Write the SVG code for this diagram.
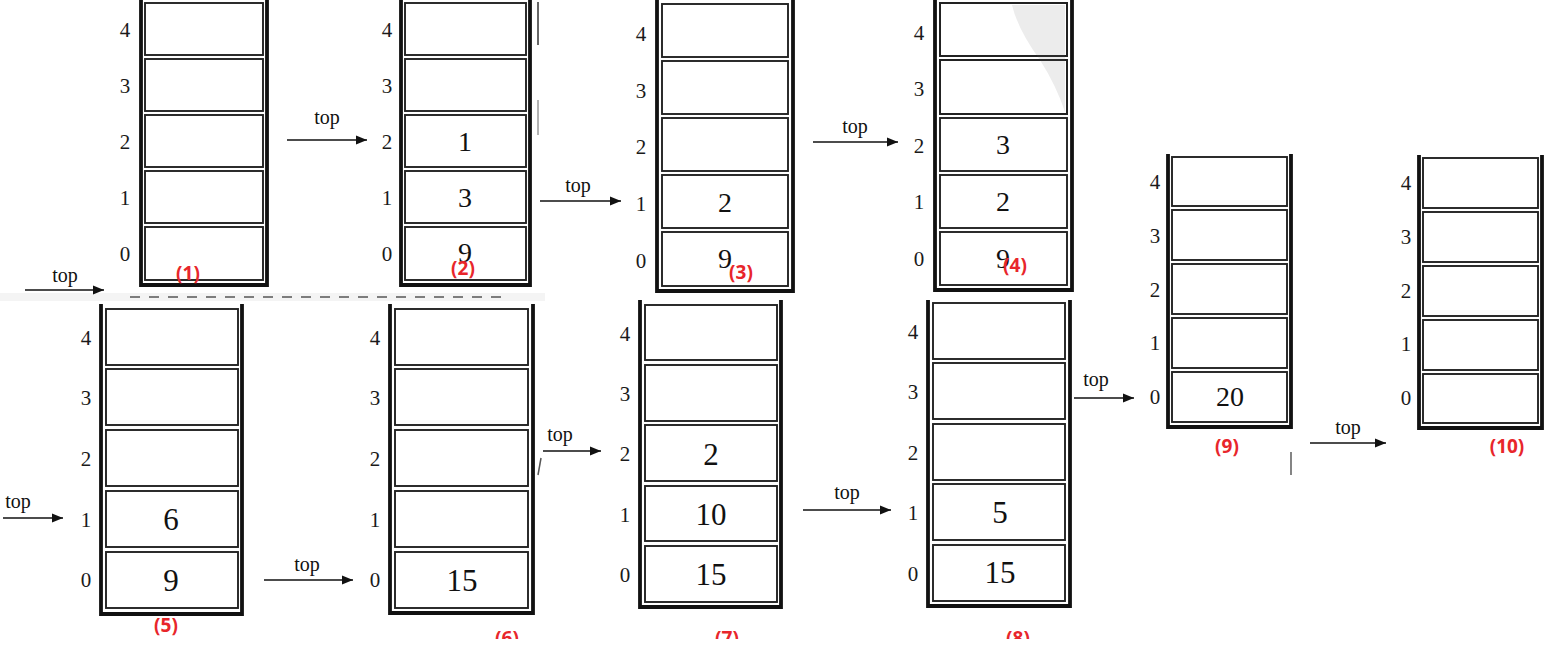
<svg xmlns="http://www.w3.org/2000/svg" width="1550" height="650" viewBox="0 0 1550 650">
<defs>
<style>
.wall{fill:none;stroke:#111;stroke-width:3.8;stroke-linejoin:miter}
.cell{fill:#fff;stroke:#222;stroke-width:1.9}
.cello{fill:none;stroke:#222;stroke-width:1.9}
.idx{font-family:"Liberation Serif",serif;font-size:21px;fill:#1a1a1a;text-anchor:middle}
.val{font-family:"Liberation Serif",serif;font-size:28px;fill:#111;text-anchor:middle}
.valb{font-family:"Liberation Serif",serif;font-size:31px;fill:#111;text-anchor:middle}
.top{font-family:"Liberation Serif",serif;font-size:20px;fill:#111;text-anchor:middle}
.lbl{font-family:"Noto Sans","Noto Sans CJK SC",sans-serif;font-size:19px;font-weight:bold;fill:#e8262b;text-anchor:middle}
.arr{stroke:#111;stroke-width:1.7;fill:none;marker-end:url(#ah)}
</style>
<marker id="ah" viewBox="0 0 10 10" refX="10" refY="5" markerWidth="12" markerHeight="11" markerUnits="userSpaceOnUse" orient="auto"><path d="M0,1 L10,5 L0,9 Z" fill="#111"/></marker>
</defs>
<rect width="1550" height="650" fill="#fff"/>
<g id="artifacts">
<rect x="0" y="293" width="545" height="8" fill="#f4f4f4"/>
<line x1="130" y1="297" x2="510" y2="297" stroke="#555" stroke-width="1.6" stroke-dasharray="10 9"/>
<line x1="538" y1="2" x2="538" y2="45" stroke="#333" stroke-width="1.5"/>
<line x1="538" y1="100" x2="538" y2="135" stroke="#666" stroke-width="1"/>
<line x1="1291" y1="452" x2="1291" y2="475" stroke="#333" stroke-width="1.2"/>
</g>

<g id="stack1">
<g class="cell"><rect x="145" y="3" width="118" height="52"/><rect x="145" y="59" width="118" height="52"/><rect x="145" y="115" width="118" height="52"/><rect x="145" y="171" width="118" height="52"/><rect x="145" y="227" width="118" height="53"/></g>
<path class="wall" d="M141,0 V285 H267 V0"/>
<g class="idx"><text x="125" y="37">4</text><text x="125" y="93">3</text><text x="125" y="149">2</text><text x="125" y="205">1</text><text x="125" y="261">0</text></g>
<text class="lbl" x="188" y="280">(1)</text>
</g>

<g id="stack2">
<g class="cell"><rect x="405" y="3" width="121" height="52"/><rect x="405" y="59" width="121" height="52"/><rect x="405" y="115" width="121" height="52"/><rect x="405" y="171" width="121" height="52"/><rect x="405" y="227" width="121" height="53"/></g>
<path class="wall" d="M401,0 V285 H530 V0"/>
<g class="idx"><text x="387" y="37">4</text><text x="387" y="93">3</text><text x="387" y="149">2</text><text x="387" y="205">1</text><text x="387" y="261">0</text></g>
<text class="val" x="465" y="151">1</text><text class="val" x="465" y="207">3</text><text class="val" x="465" y="262">9</text>
<text class="lbl" x="463" y="275">(2)</text>
</g>

<g id="stack3">
<g class="cell"><rect x="662" y="4" width="126" height="53"/><rect x="662" y="61" width="126" height="53"/><rect x="662" y="118" width="126" height="53"/><rect x="662" y="175" width="126" height="53"/><rect x="662" y="232" width="126" height="54"/></g>
<path class="wall" d="M657,0 V291 H793 V0"/>
<g class="idx"><text x="641" y="41">4</text><text x="641" y="98">3</text><text x="641" y="154">2</text><text x="641" y="211">1</text><text x="641" y="268">0</text></g>
<text class="val" x="725" y="212">2</text><text class="val" x="725" y="268">9</text>
<text class="lbl" x="741" y="279">(3)</text>
</g>

<g id="stack4">
<g class="cell"><rect x="940" y="3" width="127" height="53"/><rect x="940" y="60" width="127" height="54"/><rect x="940" y="118" width="127" height="53"/><rect x="940" y="175" width="127" height="53"/><rect x="940" y="232" width="127" height="53"/></g>
<path d="M1012,5 Q1018,30 1040,60 Q1056,85 1065,112 L1065,5 Z" fill="#ececec"/>
<g class="cello"><rect x="940" y="3" width="127" height="53"/><rect x="940" y="60" width="127" height="54"/></g>
<path class="wall" d="M935,0 V290 H1072 V0"/>
<g class="idx"><text x="919" y="40">4</text><text x="919" y="96">3</text><text x="919" y="153">2</text><text x="919" y="209">1</text><text x="919" y="266">0</text></g>
<text class="val" x="1003" y="154">3</text><text class="val" x="1003" y="211">2</text><text class="val" x="1003" y="268">9</text>
<text class="lbl" x="1015" y="272">(4)</text>
</g>

<g id="stack5">
<g class="cell"><rect x="106" y="309" width="132" height="56"/><rect x="106" y="369" width="132" height="56"/><rect x="106" y="430" width="132" height="56"/><rect x="106" y="491" width="132" height="56"/><rect x="106" y="552" width="132" height="56"/></g>
<path class="wall" d="M101,304 V614 H242 V304"/>
<g class="idx"><text x="86" y="345">4</text><text x="86" y="405">3</text><text x="86" y="466">2</text><text x="86" y="527">1</text><text x="86" y="587">0</text></g>
<text class="valb" x="171" y="530">6</text><text class="valb" x="171" y="591">9</text>
<text class="lbl" x="166" y="632">(5)</text>
</g>

<g id="stack6">
<g class="cell"><rect x="395" y="309" width="133" height="56"/><rect x="395" y="369" width="133" height="56"/><rect x="395" y="430" width="133" height="56"/><rect x="395" y="491" width="133" height="56"/><rect x="395" y="552" width="133" height="56"/></g>
<path class="wall" d="M390,304 V613 H533 V304"/>
<g class="idx"><text x="375" y="345">4</text><text x="375" y="405">3</text><text x="375" y="466">2</text><text x="375" y="527">1</text><text x="375" y="587">0</text></g>
<text class="valb" x="462" y="591">15</text>
<text class="lbl" x="507" y="645">(6)</text>
</g>

<g id="stack7">
<g class="cell"><rect x="645" y="305" width="132" height="55"/><rect x="645" y="365" width="132" height="56"/><rect x="645" y="425" width="132" height="56"/><rect x="645" y="486" width="132" height="55"/><rect x="645" y="546" width="132" height="56"/></g>
<path class="wall" d="M640,300 V607 H781 V300"/>
<g class="idx"><text x="625" y="341">4</text><text x="625" y="401">3</text><text x="625" y="461">2</text><text x="625" y="522">1</text><text x="625" y="582">0</text></g>
<text class="valb" x="711" y="465">2</text><text class="valb" x="711" y="525">10</text><text class="valb" x="711" y="585">15</text>
<text class="lbl" x="727" y="645">(7)</text>
</g>

<g id="stack8">
<g class="cell"><rect x="933" y="303" width="132" height="56"/><rect x="933" y="363" width="132" height="56"/><rect x="933" y="424" width="132" height="56"/><rect x="933" y="484" width="132" height="56"/><rect x="933" y="545" width="132" height="56"/></g>
<path class="wall" d="M928,300 V606 H1070 V300"/>
<g class="idx"><text x="913" y="339">4</text><text x="913" y="399">3</text><text x="913" y="460">2</text><text x="913" y="520">1</text><text x="913" y="581">0</text></g>
<text class="valb" x="1000" y="523">5</text><text class="valb" x="1000" y="583">15</text>
<text class="lbl" x="1018" y="645">(8)</text>
</g>

<g id="stack9">
<g class="cell"><rect x="1172" y="157" width="115" height="49"/><rect x="1172" y="210" width="115" height="50"/><rect x="1172" y="264" width="115" height="50"/><rect x="1172" y="318" width="115" height="50"/><rect x="1172" y="372" width="115" height="50"/></g>
<path class="wall" d="M1168,154 V427 H1291 V154"/>
<g class="idx"><text x="1155" y="189">4</text><text x="1155" y="243">3</text><text x="1155" y="297">2</text><text x="1155" y="350">1</text><text x="1155" y="404">0</text></g>
<text class="val" x="1230" y="406">20</text>
<text class="lbl" x="1227" y="453">(9)</text>
</g>

<g id="stack10">
<g class="cell"><rect x="1423" y="158" width="115" height="50"/><rect x="1423" y="212" width="115" height="50"/><rect x="1423" y="266" width="115" height="50"/><rect x="1423" y="320" width="115" height="50"/><rect x="1423" y="374" width="115" height="49"/></g>
<path class="wall" d="M1419,155 V428 H1542 V155"/>
<g class="idx"><text x="1406" y="190">4</text><text x="1406" y="244">3</text><text x="1406" y="298">2</text><text x="1406" y="351">1</text><text x="1406" y="405">0</text></g>
<text class="lbl" x="1507" y="453">(10)</text>
</g>

<rect x="0" y="639" width="1550" height="11" fill="#fff"/>

<g id="connectors">
<text class="top" x="65" y="282">top</text><line class="arr" x1="25" y1="290" x2="104" y2="290"/>
<text class="top" x="327" y="124">top</text><line class="arr" x1="287" y1="140" x2="367" y2="140"/>
<text class="top" x="578" y="192">top</text><line class="arr" x1="540" y1="201" x2="621" y2="201"/>
<text class="top" x="855" y="133">top</text><line class="arr" x1="813" y1="142" x2="898" y2="142"/>
<text class="top" x="18" y="508">top</text><line class="arr" x1="3" y1="518" x2="63" y2="518"/>
<text class="top" x="307" y="571">top</text><line class="arr" x1="264" y1="580" x2="353" y2="580"/>
<text class="top" x="560" y="441">top</text><line class="arr" x1="543" y1="451" x2="601" y2="451"/>
<line x1="541" y1="458" x2="538" y2="475" stroke="#555" stroke-width="1.5"/>
<text class="top" x="847" y="499">top</text><line class="arr" x1="803" y1="510" x2="891" y2="510"/>
<text class="top" x="1096" y="386">top</text><line class="arr" x1="1074" y1="398" x2="1134" y2="398"/>
<text class="top" x="1348" y="434">top</text><line class="arr" x1="1310" y1="443" x2="1386" y2="443"/>
</g>
</svg>
